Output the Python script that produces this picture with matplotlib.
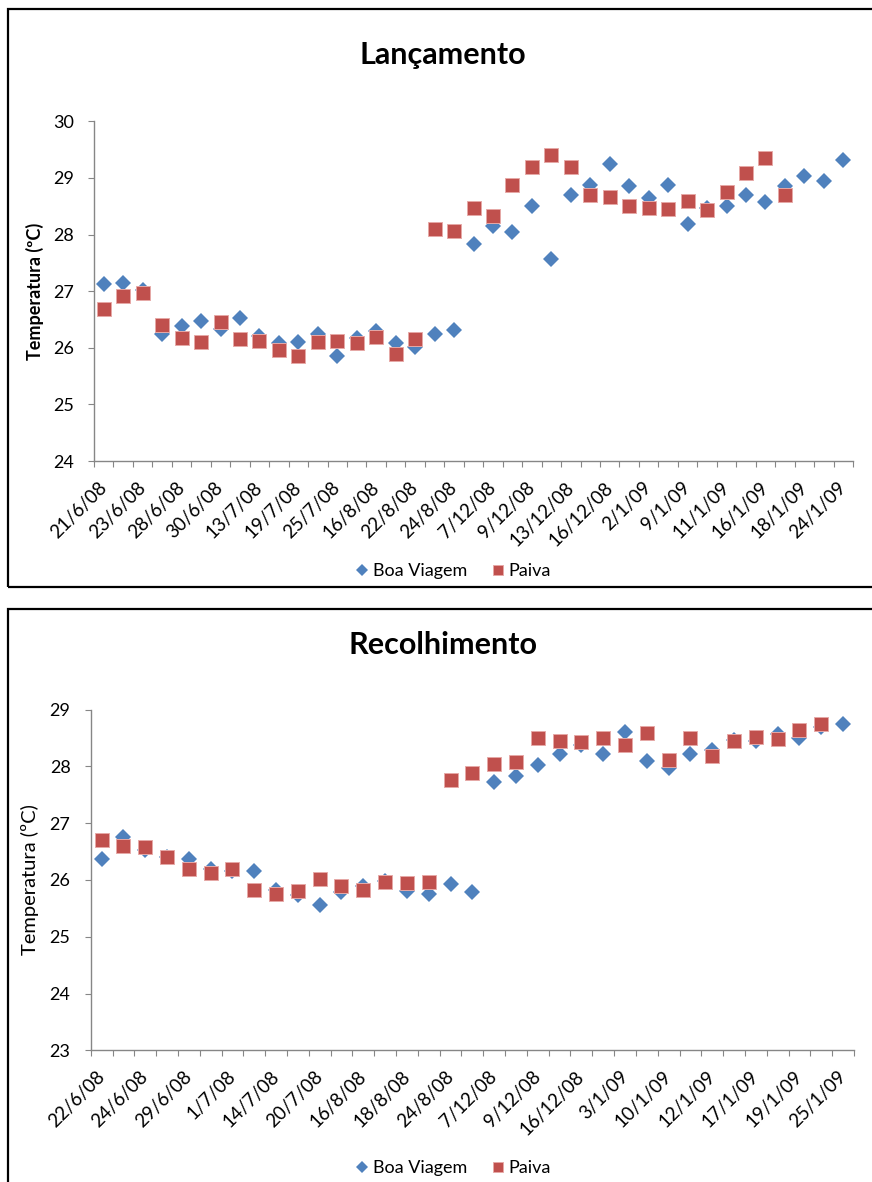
import numpy as np
import matplotlib
matplotlib.use("Agg")
from matplotlib import pyplot as plt
from matplotlib.patches import Rectangle

nan = np.nan

## Lancamento
lanc_labels = ['21/6/08', '23/6/08', '28/6/08', '30/6/08', '13/7/08', '19/7/08', '25/7/08',
               '16/8/08', '22/8/08', '24/8/08', '7/12/08', '9/12/08', '13/12/08', '16/12/08',
               '2/1/09', '9/1/09', '11/1/09', '16/1/09', '18/1/09', '24/1/09']
boa_lanc = [27.13, 27.15, 27.02, 26.25, 26.39, 26.48, 26.33, 26.52, 26.21, 26.08,
            26.11, 26.25, 25.86, 26.18, 26.30, 26.09, 26.02, 26.25, 26.32, 27.83,
            28.15, 28.05, 28.51, 27.56, 28.70, 28.88, 29.25, 28.86, 28.65, 28.88,
            28.19, 28.47, 28.50, 28.69, 28.58, 28.86, 29.04, 28.94, 29.32]
paiva_lanc = [26.68, 26.92, 26.96, 26.40, 26.17, 26.10, 26.45, 26.15, 26.12, 25.96,
              25.86, 26.10, 26.12, 26.08, 26.19, 25.89, 26.15, 28.10, 28.07, 28.47,
              28.32, 28.87, 29.19, 29.40, 29.20, 28.69, 28.66, 28.50, 28.47, 28.45,
              28.60, 28.43, 28.75, 29.08, 29.36, 28.70, nan, nan, nan]

## Recolhimento
rec_labels = ['22/6/08', '24/6/08', '29/6/08', '1/7/08', '14/7/08', '20/7/08', '16/8/08',
              '18/8/08', '24/8/08', '7/12/08', '9/12/08', '16/12/08', '3/1/09', '10/1/09',
              '12/1/09', '17/1/09', '19/1/09', '25/1/09']
boa_rec = [26.37, 26.76, 26.53, 26.41, 26.37, 26.20, 26.15, 26.16, 25.82, 25.73,
           25.56, 25.79, 25.89, 25.99, 25.81, 25.75, 25.93, 25.79, 27.72, 27.84,
           28.02, 28.22, 28.38, 28.22, 28.61, 28.10, 27.98, 28.22, 28.29, 28.47,
           28.45, 28.57, 28.50, 28.70, 28.75]
paiva_rec = [26.70, 26.60, 26.59, 26.41, 26.19, 26.12, 26.19, 25.82, 25.76, 25.81,
             26.01, 25.90, 25.82, 25.96, 25.94, 25.96, 27.76, 27.88, 28.05, 28.08,
             28.51, 28.44, 28.43, 28.51, 28.37, 28.59, 28.12, 28.50, 28.18, 28.44,
             28.52, 28.49, 28.64, 28.74, nan]

W, H = 872, 1182
FONT = 'Lato'
GRAY = '#868686'
BLUE = '#4F81BD'
RED = '#C0504D'

plt.rcParams['font.family'] = FONT
fig = plt.figure(figsize=(W / 100, H / 100), dpi=100)


def px_rect(x0, y0, x1, y1):
    return [x0 / W, 1 - y1 / H, (x1 - x0) / W, (y1 - y0) / H]


def draw_panel(rect, boa, paiva, labels, ylim, title, title_y, legend_y, ylab_bold, ylab_size, ylab_x):
    ax = fig.add_axes(rect)
    n = len(boa)
    x = np.arange(n)
    ax.plot(x, boa, 'D', color=BLUE, markersize=8, markeredgewidth=0, label='Boa Viagem')
    ax.plot(x, paiva, 's', color=RED, markersize=10, markeredgecolor='#E6A9A7',
            markeredgewidth=0.7, label='Paiva')

    ax.set_xlim(-0.5, n - 0.5)
    ax.set_ylim(*ylim)
    ax.set_yticks(np.arange(ylim[0], ylim[1] + 1))
    ax.set_xticks(np.arange(n + 1) - 0.5)
    ax.set_xticklabels([])
    ax.set_xticks(np.arange(0, n, 2), minor=True)
    ax.set_xticklabels(labels, minor=True, rotation=45, ha='right', va='center',
                       rotation_mode='anchor', fontsize=13.5)
    ax.tick_params(axis='x', which='minor', length=0, pad=17)
    ax.tick_params(axis='both', which='major', length=4.5, color=GRAY, labelsize=13)
    ax.tick_params(axis='y', pad=10)

    for s in ['top', 'right']:
        ax.spines[s].set_visible(False)
    for s in ['left', 'bottom']:
        ax.spines[s].set_color(GRAY)
        ax.spines[s].set_linewidth(1.0)

    ax.set_ylabel('Temperatura (ºC)', fontsize=ylab_size,
                  fontweight='bold' if ylab_bold else 'normal')
    ax.yaxis.set_label_coords(ylab_x, 0.5)

    fig.text(443 / W, 1 - title_y / H, title, fontsize=22, fontweight='bold',
             ha='center', va='center')
    ax.legend(loc='center', bbox_to_anchor=(454 / W, 1 - legend_y / H),
              bbox_transform=fig.transFigure, ncol=2, frameon=False, fontsize=13,
              handlelength=0.6, handletextpad=0.3, columnspacing=1.4, markerscale=0.75)
    return ax


draw_panel(px_rect(94, 121.3, 853, 461), boa_lanc, paiva_lanc, lanc_labels, (24, 30),
           'Lançamento', 55, 571, True, 13, -0.066)
draw_panel(px_rect(90.7, 709.7, 854, 1050.3), boa_rec, paiva_rec, rec_labels, (23, 29),
           'Recolhimento', 645, 1168, False, 14.5, -0.068)

# chart borders
fig.patches.append(Rectangle((8 / W, 1 - 587 / H), 1.0, (587 - 9) / H, transform=fig.transFigure,
                             fill=False, lw=1.6, ec='black'))
fig.patches.append(Rectangle((8 / W, -0.1), 1.0, (1182 - 609) / H + 0.1, transform=fig.transFigure,
                             fill=False, lw=1.6, ec='black'))

fig.savefig('out.png', dpi=100)
